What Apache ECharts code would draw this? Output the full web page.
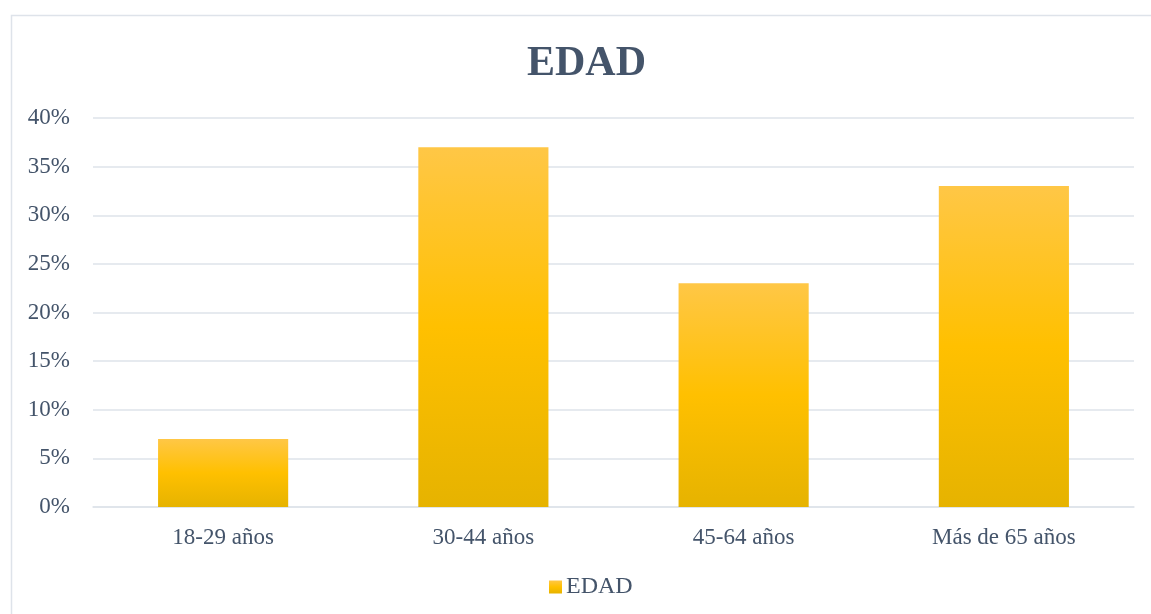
<!DOCTYPE html>
<html>
<head>
<meta charset="utf-8">
<script src="https://cdn.jsdelivr.net/npm/echarts@6/dist/echarts.min.js"></script>
<style>
  html, body { margin: 0; padding: 0; background: #fff; }
  #main { width: 1151px; height: 614px; }
</style>
</head>
<body>
<div id="main"></div>
<script>
// datos del gráfico
const categorias = ['18-29 años', '30-44 años', '45-64 años', 'Más de 65 años'];
const edad = [7, 37, 23, 33];
const ticksY = [0, 5, 10, 15, 20, 25, 30, 35, 40];

const textColor = '#44546A';
const fuente = '"Liberation Serif", "Times New Roman", serif';

const chart = echarts.init(document.getElementById('main'));

// degradado tipo Office: claro arriba, base al medio, oscuro abajo
const relleno = new echarts.graphic.LinearGradient(0, 0, 0, 1, [
  { offset: 0, color: '#FFC746' },
  { offset: 0.5, color: '#FFC000' },
  { offset: 1, color: '#E6B300' }
]);

chart.setOption({
  animation: false,
  textStyle: { fontFamily: fuente },
  graphic: [{
    type: 'rect',
    shape: { x: 11.5, y: 15.5, width: 1200, height: 700 },
    style: { fill: 'none', stroke: '#DEE3EA', lineWidth: 1.5 },
    silent: true
  }],
  title: {
    text: 'EDAD',
    left: 527,
    top: 43,
    padding: 0,
    textStyle: { fontFamily: fuente, fontWeight: 'bold', fontSize: 42, color: textColor }
  },
  legend: {
    bottom: 10,
    left: 544,
    itemWidth: 13,
    itemHeight: 13,
    itemGap: 5,
    icon: 'rect',
    textStyle: { fontFamily: fuente, fontSize: 24, color: textColor, padding: [2, 0, 0, -1] },
    data: ['EDAD']
  },
  grid: { left: 93, right: 17, top: 118, bottom: 107, containLabel: false },
  xAxis: {
    type: 'category',
    data: categorias,
    axisLine: { lineStyle: { color: '#DEE3EA', width: 1.5 } },
    axisTick: { show: false },
    axisLabel: { fontFamily: fuente, fontSize: 23, color: textColor, margin: 19 }
  },
  yAxis: {
    type: 'value',
    min: ticksY[0],
    max: ticksY[ticksY.length - 1],
    interval: 5,
    axisLine: { show: false },
    axisTick: { show: false },
    splitLine: { lineStyle: { color: '#DEE3EA', width: 1.5 } },
    axisLabel: {
      fontFamily: fuente, fontSize: 23, color: textColor, margin: 23,
      formatter: v => v + '%'
    }
  },
  series: [{
    name: 'EDAD',
    type: 'bar',
    data: edad,
    barWidth: '50%',
    itemStyle: { color: relleno }
  }]
});
</script>
</body>
</html>
